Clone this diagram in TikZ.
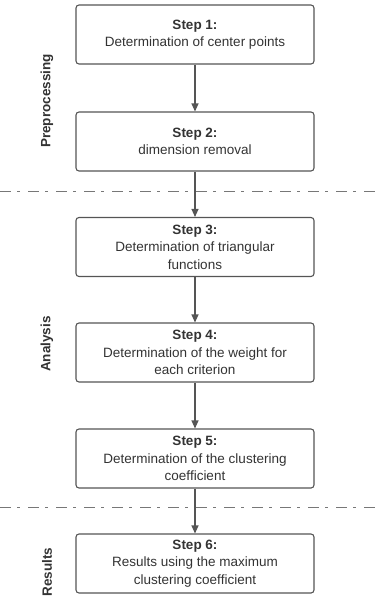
\documentclass[tikz,border=0pt]{standalone}
\usepackage{fontspec}
\setmainfont{Liberation Sans}
\usetikzlibrary{arrows.meta}
\definecolor{edge}{HTML}{555555}
\definecolor{txt}{HTML}{333333}
\begin{document}
\begin{tikzpicture}[x=1pt,y=-1pt,
  stepbox/.style={draw=edge, line width=1.1pt, rounded corners=3pt, minimum width=238pt, minimum height=59pt, align=center, text=txt, font=\fontsize{13.5}{17.5}\selectfont, inner sep=0pt},
  flow/.style={draw=edge, line width=1.1pt, -{Triangle[length=8pt,width=7pt]}},
  sep/.style={draw=edge!80, line width=1pt, dash pattern=on 11pt off 6pt on 2.5pt off 8.5pt},
  phase/.style={rotate=90, text=txt, font=\fontsize{13.5}{16}\selectfont\bfseries}]
\useasboundingbox (0,0) rectangle (378,600);
\node[stepbox] (s1) at (195,34.5) {\textbf{Step 1:}\\Determination of center points};
\node[stepbox] (s2) at (195,141.5) {\textbf{Step 2:}\\dimension removal};
\node[stepbox] (s3) at (195,247) {\textbf{Step 3:}\\Determination of triangular\\functions};
\node[stepbox] (s4) at (195,352.5) {\textbf{Step 4:}\\Determination of the weight for\\each criterion};
\node[stepbox] (s5) at (195,458.5) {\textbf{Step 5:}\\Determination of the clustering\\coefficient};
\node[stepbox] (s6) at (195,563.5) {\textbf{Step 6:}\\Results using the maximum\\clustering coefficient};
\coordinate (l1a) at (0,191); \coordinate (l1b) at (378,191);
\coordinate (l2a) at (0,507); \coordinate (l2b) at (378,507);
\draw[sep] (l1a) -- (l1b);
\draw[sep] (l2a) -- (l2b);
\draw[flow] (s1) -- (s2);
\draw[flow] (s2) -- (s3);
\draw[flow] (s3) -- (s4);
\draw[flow] (s4) -- (s5);
\draw[flow] (s5) -- (s6);
\node[phase] (p1) at (47,101) {Preprocessing};
\node[phase] (p2) at (47,344) {Analysis};
\node[phase] (p3) at (47,572) {Results};
\end{tikzpicture}
\end{document}
